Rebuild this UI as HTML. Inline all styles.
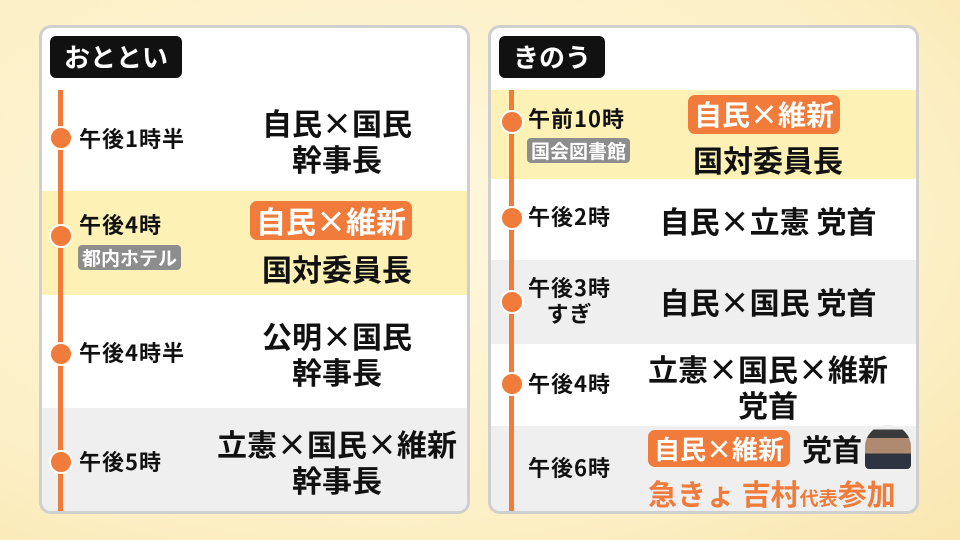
<!DOCTYPE html>
<html><head><meta charset="utf-8"><style>
*{margin:0;padding:0;box-sizing:border-box}
body{width:960px;height:540px;overflow:hidden;background:radial-gradient(ellipse at 40% 40%,#fff8df 0%,#fcefc4 70%,#f9e6b0 100%);font-family:"Noto Sans CJK JP","Liberation Sans",sans-serif;font-weight:bold;position:relative;color:#111}
.p{position:absolute;top:25px;width:431px;height:489px;border:3px solid #cfcfcf;border-radius:12px;background:#fff;overflow:hidden}
.r{position:absolute;left:0;right:0}
.a{position:absolute;white-space:nowrap}
.hd{position:absolute;left:8px;top:8px;height:42px;background:#111;color:#fff;border-radius:6px;font-size:26px;line-height:42px;padding:0 14px}
.ln{position:absolute;width:5px;background:#f07b3a;top:62px;bottom:0}
.dot{position:absolute;width:20px;height:20px;border-radius:50%;background:#f07b3a;border:2px solid #fff;box-sizing:content-box}
.t{font-size:22px;line-height:26px;letter-spacing:1px}
.m{font-size:30px;line-height:36px;text-align:center}
.tag{background:#8d8d8d;color:#fff;font-size:19px;line-height:25px;padding:0 4px;border-radius:4px}
.bd{background:#f07b3a;color:#fff;border-radius:7px;font-size:30px;line-height:39px;padding:0 6px}
</style></head><body>
<div class="p" style="left:39px">
<div class="r" style="top:163px;height:104px;background:#fdf1b5"></div>
<div class="r" style="top:380px;height:110px;background:#efefef"></div>
<div class="hd">おととい</div>
<div class="ln" style="left:16px"></div>
<div class="dot" style="left:7px;top:98px"></div>
<div class="dot" style="left:7px;top:196px"></div>
<div class="dot" style="left:7px;top:314px"></div>
<div class="dot" style="left:7px;top:422px"></div>
<div class="a t" style="left:37px;top:97px">午後1時半</div>
<div class="a t" style="left:37px;top:183px">午後4時</div>
<div class="a tag" style="left:36px;top:217px">都内ホテル</div>
<div class="a t" style="left:37px;top:311px">午後4時半</div>
<div class="a t" style="left:37px;top:420px">午後5時</div>
<div class="a m" style="left:160px;width:270px;top:76px">自民×国民<br>幹事長</div>
<div class="a bd" style="left:208px;top:173px">自民×維新</div>
<div class="a m" style="left:160px;width:270px;top:222px">国対委員長</div>
<div class="a m" style="left:160px;width:270px;top:289px">公明×国民<br>幹事長</div>
<div class="a m" style="left:160px;width:270px;top:397px">立憲×国民×維新<br>幹事長</div>
</div>
<div class="p" style="left:488px">
<div class="r" style="top:62px;height:89px;background:#fdf1b5"></div>
<div class="r" style="top:232px;height:84px;background:#efefef"></div>
<div class="r" style="top:398px;height:92px;background:#efefef"></div>
<div class="hd">きのう</div>
<div class="ln" style="left:18px"></div>
<div class="dot" style="left:9px;top:82px"></div>
<div class="dot" style="left:9px;top:178px"></div>
<div class="dot" style="left:9px;top:262px"></div>
<div class="dot" style="left:9px;top:344px"></div>
<div class="a t" style="left:37px;top:77px">午前10時</div>
<div class="a tag" style="left:36px;top:110px">国会図書館</div>
<div class="a t" style="left:37px;top:175px">午後2時</div>
<div class="a t" style="left:37px;top:246px;text-align:center;line-height:26px">午後3時<br>すぎ</div>
<div class="a t" style="left:37px;top:342px">午後4時</div>
<div class="a t" style="left:37px;top:426px">午後6時</div>
<div class="a bd" style="left:197px;top:67px;font-size:28px">自民×維新</div>
<div class="a m" style="left:142px;width:270px;top:113px">国対委員長</div>
<div class="a m" style="left:142px;width:270px;top:174px">自民×立憲 党首</div>
<div class="a m" style="left:142px;width:270px;top:255px">自民×国民 党首</div>
<div class="a m" style="left:142px;width:270px;top:322px">立憲×国民×維新<br>党首</div>
<div class="a bd" style="left:157px;top:402px;font-size:26px;line-height:37px">自民×維新</div>
<div class="a m" style="left:311px;top:402px">党首</div>
<div class="a" style="left:374px;top:397px;width:46px;height:44px;background:linear-gradient(#efefef 0,#efefef 10%,#3a3a3a 10%,#3a3a3a 30%,#b08a70 30%,#b08a70 65%,#2d3340 65%);border-radius:22px 22px 4px 4px"></div>
<div class="a" style="left:157px;top:446px;color:#f07b3a;font-size:29px;line-height:38px">急きょ 吉村<span style="font-size:19px">代表</span>参加</div>
</div>
</body></html>
